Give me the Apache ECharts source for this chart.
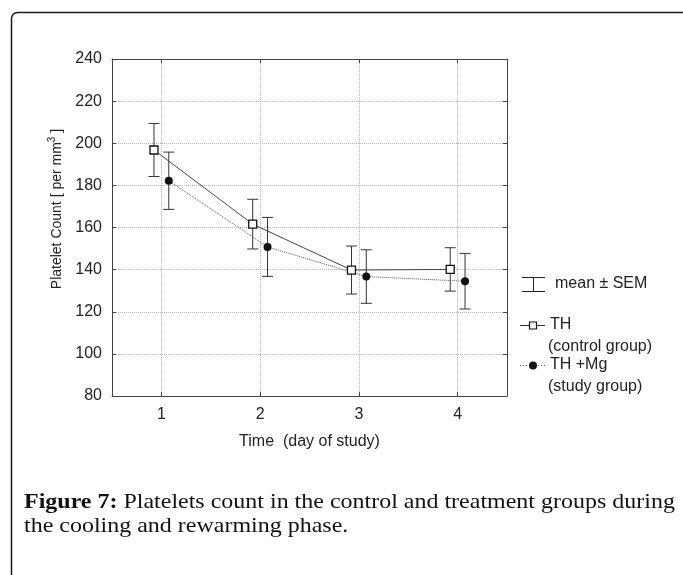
<!DOCTYPE html>
<html>
<head>
<meta charset="utf-8">
<script src="https://cdn.jsdelivr.net/npm/echarts@6/dist/echarts.min.js"></script>
<style>
  html, body { margin: 0; padding: 0; background: #fff; }
  #chart { width: 683px; height: 575px; }
</style>
</head>
<body>
<div id="chart"></div>
<script>
// Study days on the x axis
const days = [1, 2, 3, 4];
const dayTicks = [1, 2, 3, 4];
// Platelet count, mean and SEM, per group
const controlMean = [196.8, 161.6, 139.8, 140.1];
const controlSem  = [12.6, 11.8, 11.4, 10.3];
const studyMean   = [182.2, 150.8, 136.7, 134.5];
const studySem    = [13.6, 14.0, 12.7, 13.2];
// Horizontal dodge so the two groups do not overlap
const dodge = 0.075;

const INK = '#222';
const FONT = '"Liberation Sans", Arial, sans-serif';
const SERIF = '"Liberation Serif", "Times New Roman", serif';

const controlPts = days.map((d, i) => [d - dodge, controlMean[i]]);
const studyPts = days.map((d, i) => [d + dodge, studyMean[i]]);
const controlBars = days.map((d, i) => [d - dodge, controlMean[i] - controlSem[i], controlMean[i] + controlSem[i]]);
const studyBars = days.map((d, i) => [d + dodge, studyMean[i] - studySem[i], studyMean[i] + studySem[i]]);

function errorBar(params, api) {
  const x = api.value(0);
  const lo = api.coord([x, api.value(1)]);
  const hi = api.coord([x, api.value(2)]);
  const hw = 5.5;
  const st = { stroke: '#333', lineWidth: 1 };
  return {
    type: 'group',
    children: [
      { type: 'line', shape: { x1: lo[0], y1: lo[1], x2: hi[0], y2: hi[1] }, style: st },
      { type: 'line', shape: { x1: hi[0] - hw, y1: hi[1], x2: hi[0] + hw, y2: hi[1] }, style: st },
      { type: 'line', shape: { x1: lo[0] - hw, y1: lo[1], x2: lo[0] + hw, y2: lo[1] }, style: st }
    ]
  };
}

const axisLine = { show: true, lineStyle: { color: '#444', width: 1 } };
const tickIn = { show: true, inside: true, length: 4, lineStyle: { color: '#444' } };
const gridDots = { show: true, lineStyle: { type: 'dotted', color: '#b5b5b5', width: 1 } };

const chart = echarts.init(document.getElementById('chart'), null, { renderer: 'canvas' });

chart.setOption({
  animation: false,
  backgroundColor: '#fff',
  textStyle: { fontFamily: FONT },
  grid: { left: 112, right: 176, top: 59, bottom: 179, containLabel: false },
  xAxis: [
    {
      type: 'value', min: 0.5, max: 4.5, position: 'bottom',
      axisLine: axisLine,
      axisTick: Object.assign({ customValues: dayTicks }, tickIn),
      axisLabel: { customValues: dayTicks, fontSize: 16, color: INK, margin: 11, fontFamily: FONT },
      splitLine: gridDots,
      name: 'Time  (day of study)', nameLocation: 'middle', nameGap: 38,
      nameTextStyle: { fontSize: 16, color: INK, fontFamily: FONT }
    },
    {
      type: 'value', min: 0.5, max: 4.5, position: 'top',
      axisLine: axisLine,
      axisTick: Object.assign({ customValues: dayTicks }, tickIn),
      axisLabel: { show: false },
      splitLine: { show: false }
    }
  ],
  yAxis: [
    {
      type: 'value', min: 80, max: 240, interval: 20, position: 'left',
      axisLine: axisLine, axisTick: tickIn,
      axisLabel: { fontSize: 16, color: INK, margin: 10, fontFamily: FONT },
      splitLine: gridDots
    },
    {
      type: 'value', min: 80, max: 240, interval: 20, position: 'right',
      axisLine: axisLine, axisTick: tickIn,
      axisLabel: { show: false }, splitLine: { show: false }
    }
  ],
  series: [
    {
      name: 'TH sem', type: 'custom', renderItem: errorBar,
      encode: { x: 0, y: [1, 2] }, data: controlBars, z: 2, silent: true
    },
    {
      name: 'TH +Mg sem', type: 'custom', renderItem: errorBar,
      encode: { x: 0, y: [1, 2] }, data: studyBars, z: 2, silent: true
    },
    {
      name: 'TH', type: 'line', data: controlPts, z: 4,
      symbol: 'rect', symbolSize: 8, showAllSymbol: true,
      lineStyle: { color: '#444', width: 1 },
      itemStyle: { color: '#fff', borderColor: '#111', borderWidth: 1.3 }
    },
    {
      name: 'TH +Mg', type: 'line', data: studyPts, z: 3,
      symbol: 'circle', symbolSize: 8, showAllSymbol: true,
      lineStyle: { color: '#555', width: 1, type: 'dotted' },
      itemStyle: { color: '#111', borderColor: '#111', borderWidth: 0 }
    }
  ],
  graphic: [
    // figure frame
    { type: 'rect', z: -1, silent: true,
      shape: { x: 11.5, y: 12.5, width: 720, height: 620, r: 6 },
      style: { fill: 'none', stroke: '#1a1a1a', lineWidth: 1.5 } },
    // y axis title
    { type: 'text', x: 57, y: 209, rotation: Math.PI / 2, silent: true,
      style: {
        text: 'Platelet Count [ per mm{s|3} ]',
        font: '14px ' + FONT, fill: INK, align: 'center', verticalAlign: 'middle',
        rich: { s: { fontSize: 10, fontFamily: FONT, verticalAlign: 'top', padding: [0, 0, 9, 0], fill: INK } }
      } },
    // key: error bar glyph
    { type: 'line', shape: { x1: 533.5, y1: 277, x2: 533.5, y2: 291.5 }, style: { stroke: '#222', lineWidth: 1 } },
    { type: 'line', shape: { x1: 522, y1: 277.5, x2: 545, y2: 277.5 }, style: { stroke: '#222', lineWidth: 1 } },
    { type: 'line', shape: { x1: 522, y1: 291.5, x2: 545, y2: 291.5 }, style: { stroke: '#222', lineWidth: 1 } },
    { type: 'text', x: 555, y: 284, style: { text: 'mean ± SEM', font: '16px ' + FONT, fill: INK, verticalAlign: 'middle' } },
    // key: control group
    { type: 'line', shape: { x1: 520, y1: 325.5, x2: 545, y2: 325.5 }, style: { stroke: '#333', lineWidth: 1 } },
    { type: 'rect', shape: { x: 529.5, y: 322, width: 7, height: 7 }, style: { fill: '#fff', stroke: '#111', lineWidth: 1.2 } },
    { type: 'text', x: 550, y: 325, style: { text: 'TH', font: '16px ' + FONT, fill: INK, verticalAlign: 'middle' } },
    { type: 'text', x: 548, y: 347, style: { text: '(control group)', font: '16px ' + FONT, fill: INK, verticalAlign: 'middle' } },
    // key: study group
    { type: 'line', shape: { x1: 520, y1: 365.5, x2: 545, y2: 365.5 }, style: { stroke: '#555', lineWidth: 1, lineDash: [1, 2] } },
    { type: 'circle', shape: { cx: 533, cy: 365.5, r: 4 }, style: { fill: '#111' } },
    { type: 'text', x: 550, y: 365, style: { text: 'TH +Mg', font: '16px ' + FONT, fill: INK, verticalAlign: 'middle' } },
    { type: 'text', x: 548, y: 387, style: { text: '(study group)', font: '16px ' + FONT, fill: INK, verticalAlign: 'middle' } },
    // caption
    { type: 'text', x: 24, y: 502, scaleX: 1.09, silent: true,
      style: {
        text: '{b|Figure 7:} Platelets count in the control and treatment groups during',
        font: '22px ' + SERIF, fill: '#111', verticalAlign: 'middle',
        rich: { b: { fontWeight: 'bold', fontSize: 22, fontFamily: SERIF, fill: '#111' } }
      } },
    { type: 'text', x: 24, y: 526, scaleX: 1.09, silent: true,
      style: { text: 'the cooling and rewarming phase.', font: '22px ' + SERIF, fill: '#111', verticalAlign: 'middle' } }
  ]
});
</script>
</body>
</html>
